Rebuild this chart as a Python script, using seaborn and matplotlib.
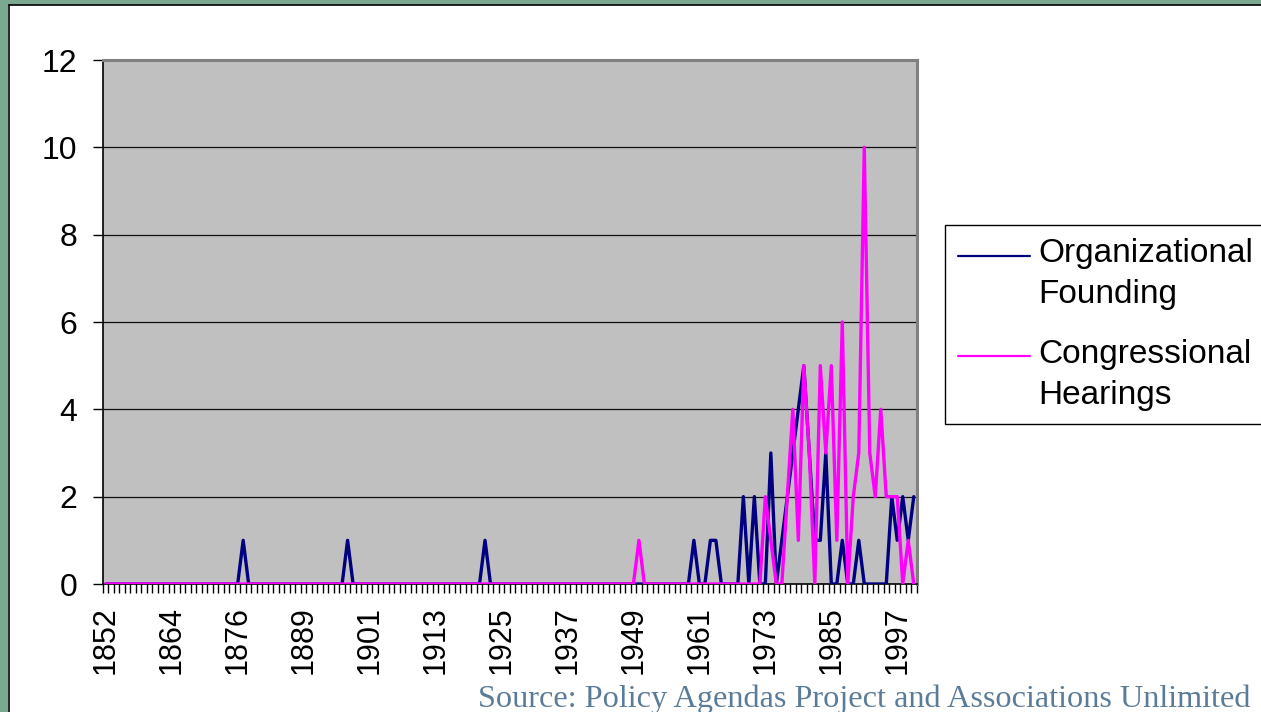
import matplotlib
matplotlib.use("Agg")
import matplotlib.pyplot as plt
from matplotlib.lines import Line2D
from matplotlib.patches import Rectangle
from matplotlib.legend_handler import HandlerLine2D
import seaborn as sns
import pandas as pd
import numpy as np

# ---- data -------------------------------------------------------------
years = [y for y in range(1852, 2001) if y != 1882]   # 148 categories

org_founding = (
    [0] * 12 + [0] * 12 +
    [0, 1, 0, 0, 0, 0, 0, 0, 0, 0, 0, 0] +
    [0, 0, 0, 0, 0, 0, 0, 0, 1, 0, 0, 0] +
    [0] * 12 +
    [0, 0, 0, 0, 0, 0, 0, 0, 0, 1, 0, 0] +
    [0] * 12 + [0] * 12 +
    [0, 0, 0, 0, 0, 0, 0, 0, 0, 0, 0, 1] +
    [0, 0, 1, 1, 0, 0, 0, 0, 2, 0, 2, 0] +
    [0, 3, 0, 1, 2, 3, 4, 5, 3, 1, 1, 3] +
    [0, 0, 1, 0, 0, 1, 0, 0, 0, 0, 0, 2] +
    [1, 2, 1, 2]
)
cong_hearings = (
    [0] * 12 * 8 +
    [0, 1, 0, 0, 0, 0, 0, 0, 0, 0, 0, 0] +
    [0] * 12 +
    [2, 1, 0, 0, 2, 4, 1, 5, 3, 0, 5, 3] +
    [5, 1, 6, 0, 2, 3, 10, 3, 2, 4, 2, 2] +
    [2, 0, 1, 0]
)
series_names = ["Organizational\nFounding", "Congressional\nHearings"]
label_years = [1852, 1864, 1876, 1889, 1901, 1913, 1925, 1937, 1949, 1961, 1973, 1985, 1997]
y_ticks = [0, 2, 4, 6, 8, 10, 12]
source_text = "Source: Policy Agendas Project and Associations Unlimited"

# ---- style ------------------------------------------------------------
sns.set_style("ticks")
plt.rcParams["font.family"] = ["Liberation Sans", "DejaVu Sans"]
plt.rcParams["text.color"] = "black"
plt.rcParams["xtick.color"] = "black"
plt.rcParams["ytick.color"] = "black"
plt.rcParams["xtick.labelcolor"] = "black"
plt.rcParams["ytick.labelcolor"] = "black"

W, H = 1261, 712
fig = plt.figure(figsize=(W / 100, H / 100), dpi=100)
fig.patch.set_facecolor("white")

# slide frame (green band + black edge on top and left)
green = "#7AA890"
fig.patches.append(Rectangle((0, 1 - 4.5 / H), 1, 4.5 / H, transform=fig.transFigure,
                             facecolor=green, edgecolor="none", zorder=0))
fig.patches.append(Rectangle((0, 0), 7.8 / W, 1, transform=fig.transFigure,
                             facecolor=green, edgecolor="none", zorder=0))
fig.add_artist(Line2D([8.5 / W, 1], [1 - 5 / H, 1 - 5 / H], transform=fig.transFigure,
                      color="black", lw=1.2))
fig.add_artist(Line2D([8.5 / W, 8.5 / W], [0, 1 - 5 / H], transform=fig.transFigure,
                      color="black", lw=1.2))

ax = fig.add_axes([103 / W, 1 - 584 / H, (916.5 - 103) / W, (584 - 60) / H])
ax.set_facecolor("#C0C0C0")

df = pd.DataFrame({
    "idx": list(range(len(years))) * 2,
    "value": org_founding + cong_hearings,
    "series": [series_names[0]] * len(years) + [series_names[1]] * len(years),
})
palette = {series_names[0]: "#000080", series_names[1]: "#FF00FF"}
sns.lineplot(data=df, x="idx", y="value", hue="series", hue_order=series_names,
             palette=palette, linewidth=2.4, ax=ax, legend=False, estimator=None,
             zorder=3)

ax.set_xlim(-0.5, len(years) - 0.5)
ax.set_ylim(0, 12)
ax.set_xlabel("")
ax.set_ylabel("")

# y axis
ax.set_yticks(y_ticks)
ax.set_yticklabels([str(v) for v in y_ticks], fontsize=23)
ax.tick_params(axis="y", direction="out", length=7.5, width=1, pad=11, color="black")
for v in y_ticks[1:-1]:
    ax.axhline(v, color="#101010", lw=0.9, zorder=1)

# x axis: category labels every 12, tick marks between all categories
pos = [years.index(y) for y in label_years]
ax.set_xticks(pos)
ax.set_xticklabels([str(y) for y in label_years], rotation=90, fontsize=22)
ax.tick_params(axis="x", which="major", length=0, pad=16)
ax.set_xticks(np.arange(-0.5, len(years), 1.0), minor=True)
ax.tick_params(axis="x", which="minor", direction="out", length=6.5, width=1, color="black")

for s in ["left", "bottom"]:
    ax.spines[s].set_color("black")
    ax.spines[s].set_linewidth(1.2)
for s in ["top", "right"]:
    ax.spines[s].set_color("#808080")
    ax.spines[s].set_linewidth(2.2)
    ax.spines[s].set_visible(True)


class UpLineHandler(HandlerLine2D):
    """Put the legend line level with the first text line."""
    def __init__(self, shift, **kw):
        super().__init__(**kw)
        self.shift = shift

    def create_artists(self, legend, orig_handle, xdescent, ydescent, width, height,
                       fontsize, trans):
        arts = super().create_artists(legend, orig_handle, xdescent, ydescent, width,
                                      height, fontsize, trans)
        for a in arts:
            a.set_ydata(np.asarray(a.get_ydata(), dtype=float) + self.shift)
        return arts


# legend
handles = [Line2D([0], [0], color=palette[n], lw=1.6) for n in series_names]
leg = fig.legend(handles, series_names, loc="upper left",
                 bbox_to_anchor=(945 / W, 1 - 225 / H), bbox_transform=fig.transFigure,
                 fontsize=24, frameon=True, fancybox=False, framealpha=1,
                 edgecolor="black", handlelength=2.15, handletextpad=0.24,
                 borderpad=0.4, labelspacing=0.85, borderaxespad=0,
                 handler_map={Line2D: UpLineHandler(13.5)})
leg.get_frame().set_linewidth(1.0)
for t in leg.get_texts():
    t.set_linespacing(1.42)

# source
fig.text(1250 / W, 1 - 707 / H, source_text, ha="right", va="baseline",
         fontsize=23.2, color="#5B7C99", family=["Liberation Serif", "DejaVu Serif"])

fig.savefig("out.png", dpi=100, facecolor=fig.get_facecolor())
